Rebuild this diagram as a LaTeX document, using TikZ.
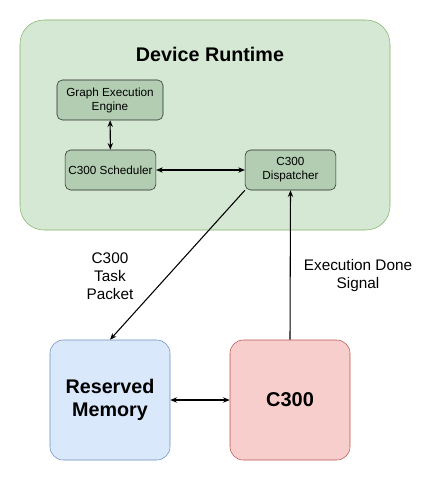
\documentclass[tikz,border=0pt]{standalone}
\usepackage{fontspec}
\setmainfont{Liberation Sans}
\usetikzlibrary{arrows.meta}
\definecolor{rtfill}{HTML}{D5E8D4}
\definecolor{rtline}{HTML}{82B366}
\definecolor{subfill}{HTML}{B2CDB2}
\definecolor{memfill}{HTML}{DAE8FC}
\definecolor{memline}{HTML}{6C8EBF}
\definecolor{cfill}{HTML}{F8CECC}
\definecolor{cline}{HTML}{B85450}
\tikzset{
  subbox/.style={draw=black!85,fill=subfill,rounded corners=4pt,align=center,
    font=\fontsize{8.8}{10.5}\selectfont,inner sep=0pt},
  bigbox/.style={rounded corners=10pt,align=center,inner sep=0pt,
    minimum width=90pt,minimum height=90pt},
  link/.style={thick,{Stealth[length=5pt,width=4pt]}-{Stealth[length=5pt,width=4pt]}},
  onelink/.style={thick,-{Stealth[length=5pt,width=4pt]}},
  lbl/.style={align=center,font=\fontsize{11.5}{13.5}\selectfont}
}
\begin{document}
\begin{tikzpicture}[x=0.75pt,y=-0.75pt]
\useasboundingbox (0,0) rectangle (431,481);
% device runtime
\node[draw=rtline,fill=rtfill,rounded corners=18pt,minimum width=277.5pt,
  minimum height=157.5pt,inner sep=0pt] (rt) at (205,125) {};
\node[font=\bfseries\fontsize{14.8}{17}\selectfont] (rttitle) at (210,54) {Device Runtime};
\node[subbox,minimum width=79.5pt,minimum height=30pt] (gee) at (110,100)
  {Graph Execution\\Engine};
\node[subbox,minimum width=68pt,minimum height=30pt] (sched) at (110.5,170)
  {C300 Scheduler};
\node[subbox,minimum width=68pt,minimum height=30pt] (disp) at (290.5,170)
  {C300\\Dispatcher};
\draw[link] (gee) -- (sched);
\draw[link] (sched) -- (disp);
% memory and c300
\node[bigbox,draw=memline,fill=memfill,font=\bfseries\fontsize{14.8}{17.5}\selectfont]
  (mem) at (110,400) {Reserved\\Memory};
\node[bigbox,draw=cline,fill=cfill,font=\bfseries\fontsize{15}{18}\selectfont]
  (c300) at (290,400) {C300};
\draw[link] (mem) -- (c300);
\draw[onelink] (disp.south west) -- (mem.north);
\draw[onelink] (c300.north) -- (disp.south);
\node[lbl] (pkt) at (110,276) {C300\\Task\\Packet};
\node[lbl] (done) at (358,276) {Execution Done\\Signal};
\end{tikzpicture}
\end{document}
